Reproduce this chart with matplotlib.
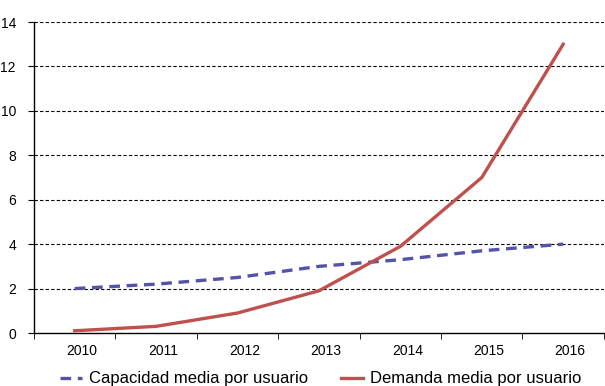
import matplotlib.pyplot as plt
from matplotlib.ticker import FixedLocator
from matplotlib.transforms import ScaledTranslation

plt.rcParams['font.family'] = ['Liberation Sans', 'DejaVu Sans']

years = ["2010", "2011", "2012", "2013", "2014", "2015", "2016"]
capacidad = [2.0, 2.2, 2.5, 3.0, 3.3, 3.7, 4.0]
demanda = [0.1, 0.3, 0.9, 1.9, 3.9, 7.0, 13.0]
y_ticks = [0, 2, 4, 6, 8, 10, 12, 14]

fig = plt.figure(figsize=(6.05, 3.86), dpi=100)
ax = fig.add_axes([0.0562, 0.1373, 0.942, 0.8057])

x = list(range(len(years)))
ax.plot(x, capacidad, color="#5353A8", lw=2.4, ls=(0, (3.2, 2.0)),
        label="Capacidad media por usuario", zorder=3)
ax.plot(x, demanda, color="#C0504D", lw=2.4,
        label="Demanda media por usuario", zorder=3)

ax.set_xlim(-0.5, len(years) - 0.5)
ax.set_ylim(0, 14)
ax.set_yticks(y_ticks)
ax.set_xticks(x)
ax.set_xticklabels(years)
ax.xaxis.set_minor_locator(FixedLocator([i - 0.5 for i in range(len(years) + 1)]))
ax.tick_params(axis="x", which="major", length=0, pad=8, labelsize=10)
ax.tick_params(axis="x", which="minor", length=4, direction="out")
ax.tick_params(axis="y", length=4, direction="out", pad=9, labelsize=10)

# Excel nudges the category labels a bit to the right
shift = ScaledTranslation(7 / 100, 0, fig.dpi_scale_trans)
for lbl in ax.get_xticklabels():
    lbl.set_transform(lbl.get_transform() + shift)

for v in y_ticks[1:]:
    ax.axhline(v, color="black", lw=0.8, ls=(0, (3, 2)), zorder=1)

for s in ["top", "right"]:
    ax.spines[s].set_visible(False)
ax.spines["left"].set_linewidth(1.0)
ax.spines["bottom"].set_linewidth(1.0)

fig.legend(loc="lower center", bbox_to_anchor=(0.53, -0.04), ncol=2,
           frameon=False, fontsize=12, handlelength=1.3, columnspacing=2.0,
           handletextpad=0.4)

fig.savefig("out.png", dpi=100)
